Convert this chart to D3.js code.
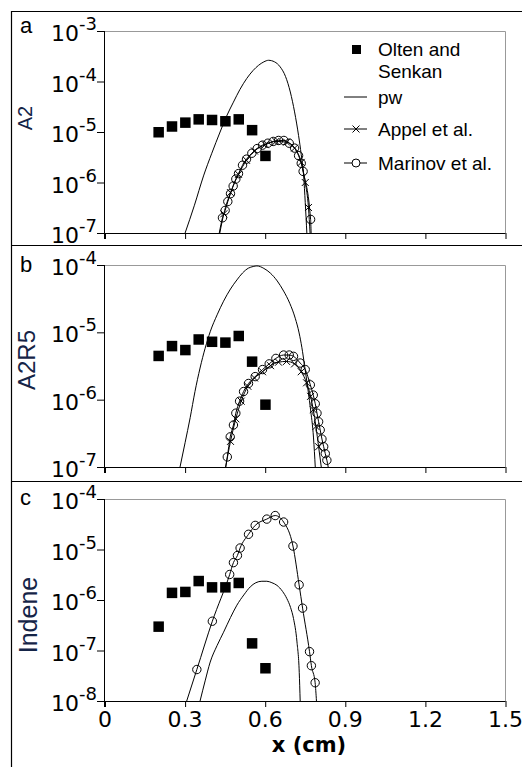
<!DOCTYPE html>
<html><head><meta charset="utf-8">
<script src="https://cdn.jsdelivr.net/npm/d3@7"></script>
<style>body{margin:0;background:#fff}svg{display:block}</style>
</head><body>
<script>
// ---------------- data ----------------
const oltenX = [0.2,0.25,0.3,0.35,0.4,0.45,0.5,0.55,0.6];
const oltenA = [1.0e-5,1.3e-5,1.55e-5,1.8e-5,1.75e-5,1.65e-5,1.8e-5,1.1e-5,3.4e-6];
const oltenB = [4.5e-6,6.3e-6,5.5e-6,7.9e-6,7.3e-6,7.1e-6,8.9e-6,3.7e-6,8.5e-7];
const oltenC = [3e-7,1.4e-6,1.46e-6,2.4e-6,1.8e-6,1.8e-6,2.2e-6,1.4e-7,4.5e-8];

const pwAx = [0.300,0.335,0.369,0.400,0.431,0.455,0.481,0.505,0.531,0.555,0.575,0.595,0.6125,0.635,0.656,0.676,0.694,0.71,0.725,0.735,0.744,0.750,0.756];
const pwAy = [1e-7,3.55e-7,1.35e-6,3.8e-6,1.0e-5,2.04e-5,3.9e-5,6.9e-5,1.15e-4,1.66e-4,2.09e-4,2.45e-4,2.63e-4,2.45e-4,1.95e-4,1.26e-4,6.2e-5,2.5e-5,8.5e-6,3.55e-6,1.35e-6,4.0e-7,1e-7];

const marAx = [0.428,0.44,0.45,0.46,0.47,0.48,0.49,0.50,0.515,0.53,0.55,0.57,0.59,0.61,0.63,0.65,0.67,0.69,0.71,0.725,0.735,0.742,0.77,0.772];
const marAy = [1e-7,2.0e-7,2.8e-7,4.2e-7,6.0e-7,8.5e-7,1.17e-6,1.5e-6,2.2e-6,2.9e-6,3.8e-6,4.7e-6,5.5e-6,6.0e-6,6.5e-6,6.8e-6,6.8e-6,6.0e-6,4.8e-6,3.4e-6,2.4e-6,1.66e-6,1.86e-7,1e-7];

const appAx = [0.43,0.445,0.47,0.50,0.53,0.56,0.60,0.64,0.68,0.71,0.735,0.75,0.762,0.768];
const appAy = [1e-7,2.4e-7,6.3e-7,1.45e-6,2.75e-6,4.2e-6,5.6e-6,6.5e-6,6.3e-6,4.8e-6,2.5e-6,1.0e-6,3.2e-7,1e-7];

const pwBx = [0.281,0.30,0.319,0.337,0.356,0.375,0.394,0.42,0.444,0.47,0.494,0.515,0.5375,0.555,0.569,0.595,0.619,0.645,0.669,0.692,0.7125,0.727,0.7375,0.747,0.756,0.769,0.781,0.7875];
const pwBy = [1e-7,2.3e-7,5.4e-7,1.32e-6,2.95e-6,5.8e-6,1.02e-5,1.82e-5,2.9e-5,4.4e-5,6.0e-5,7.6e-5,9.0e-5,9.5e-5,9.7e-5,8.9e-5,7.6e-5,5.8e-5,4.1e-5,2.7e-5,1.62e-5,9.8e-6,5.9e-6,3.3e-6,1.86e-6,7.6e-7,2.7e-7,1e-7];

const marBx = [0.452,0.458,0.469,0.481,0.49,0.504,0.519,0.5375,0.5625,0.59,0.615,0.64,0.669,0.69,0.706,0.731,0.75,0.769,0.78,0.7875,0.794,0.80,0.806,0.8125,0.819,0.825,0.831,0.836];
const marBy = [1e-7,1.41e-7,2.8e-7,4.2e-7,6.3e-7,9.5e-7,1.32e-6,1.74e-6,2.2e-6,2.8e-6,3.4e-6,4.1e-6,4.6e-6,4.6e-6,4.4e-6,3.5e-6,2.8e-6,1.66e-6,1.17e-6,8.7e-7,6.3e-7,4.7e-7,3.55e-7,2.6e-7,2.0e-7,1.58e-7,1.26e-7,1e-7];

const appBx = [0.452,0.47,0.49,0.51,0.535,0.56,0.59,0.62,0.65,0.68,0.71,0.735,0.755,0.77,0.78,0.79,0.80,0.81];
const appBy = [1e-7,2.4e-7,5.2e-7,9.5e-7,1.58e-6,2.1e-6,2.6e-6,3.2e-6,3.6e-6,3.7e-6,3.4e-6,2.6e-6,1.78e-6,1.12e-6,7.1e-7,4.0e-7,2.0e-7,1e-7];

const pwCx = [0.356,0.375,0.394,0.42,0.444,0.47,0.494,0.52,0.544,0.565,0.5875,0.606,0.625,0.644,0.665,0.681,0.695,0.706,0.719,0.7275,0.731];
const pwCy = [1e-8,2.5e-8,5.9e-8,1.26e-7,2.3e-7,4.5e-7,7.9e-7,1.26e-6,1.82e-6,2.2e-6,2.35e-6,2.35e-6,2.2e-6,1.95e-6,1.48e-6,1.07e-6,7.1e-7,4.3e-7,1.48e-7,3.7e-8,1e-8];

const marCx = [0.306,0.344,0.402,0.467,0.481,0.496,0.506,0.5375,0.5625,0.606,0.6375,0.669,0.704,0.727,0.74,0.766,0.773,0.787,0.792];
const marCy = [1e-8,4.2e-8,3.8e-7,3.2e-6,5.5e-6,7.6e-6,1.07e-5,2.0e-5,3.0e-5,4.0e-5,4.7e-5,3.5e-5,1.17e-5,2.0e-6,6.9e-7,9.5e-8,5.0e-8,2.3e-8,1e-8];

const xTicks = [0,0.3,0.6,0.9,1.2,1.5];
const xTickLabels = ["0","0.3","0.6","0.9","1.2","1.5"];
const yExpA = [-3,-4,-5,-6,-7];
const yExpB = [-4,-5,-6,-7];
const yExpC = [-4,-5,-6,-7,-8];
const panelNames = ["A2","A2R5","Indene"];
const panelLetters = ["a","b","c"];
const legendLabels = ["Olten and","Senkan","pw","Appel et al.","Marinov et al."];
const xTitle = "x (cm)";

// ---------------- drawing ----------------
const W = 522, H = 767;
const svg = d3.select("body").append("svg").attr("width", W).attr("height", H);
const TICKFONT = "'DejaVu Sans', sans-serif";
const LABFONT = "'Liberation Sans', Arial, sans-serif";

// outer frame + separators
svg.append("path").attr("d", `M11.5,767 V11.5 H522 M11.5,245.5 H522 M11.5,481.5 H522`)
  .attr("fill","none").attr("stroke","#000").attr("stroke-width",1.2);

const x = d3.scaleLinear().domain([0,1.5]).range([105,505.5]);

const panels = [
  {top:31, bottom:233, dom:[1e-7,1e-3], exps:yExpA, name:panelNames[0], letter:panelLetters[0],
   labelX:32, labelY:118, labelSize:20, letterY:33,
   olten:oltenA, pw:[pwAx,pwAy], mar:[marAx,marAy], app:[appAx,appAy]},
  {top:265, bottom:467, dom:[1e-7,1e-4], exps:yExpB, name:panelNames[1], letter:panelLetters[1],
   labelX:35, labelY:360, labelSize:24, letterY:272,
   olten:oltenB, pw:[pwBx,pwBy], mar:[marBx,marBy], app:[appBx,appBy]},
  {top:499, bottom:701, dom:[1e-8,1e-4], exps:yExpC, name:panelNames[2], letter:panelLetters[2],
   labelX:37, labelY:615, labelSize:25, letterY:505,
   olten:oltenC, pw:[pwCx,pwCy], mar:[marCx,marCy], app:null}
];

panels.forEach((p, pi) => {
  const y = d3.scaleLog().domain(p.dom).range([p.bottom, p.top]);
  const g = svg.append("g");
  const clipId = "clip"+pi;
  svg.append("clipPath").attr("id", clipId).append("rect")
    .attr("x",105).attr("y",p.top).attr("width",400.5).attr("height",p.bottom-p.top);

  // light frame top/right
  g.append("path").attr("d", `M105,${p.top+0.5} H${505.5} V${p.bottom}`)
    .attr("fill","none").attr("stroke","#999").attr("stroke-width",1);

  const line = d3.line().x(d=>x(d[0])).y(d=>y(d[1])).curve(d3.curveMonotoneX);
  const zip = a => a[0].map((v,i)=>[v,a[1][i]]);
  const cg = g.append("g").attr("clip-path", `url(#${clipId})`);

  // pw
  cg.append("path").attr("d", line(zip(p.pw))).attr("fill","none").attr("stroke","#000").attr("stroke-width",1);
  // Appel
  if (p.app) {
    const ad = zip(p.app);
    cg.append("path").attr("d", line(ad)).attr("fill","none").attr("stroke","#000").attr("stroke-width",1);
    ad.filter(d=>d[1]>p.dom[0]).forEach(d=>{
      const cx=x(d[0]), cy=y(d[1]), s=3.5;
      cg.append("path").attr("d",`M${cx-s},${cy-s}L${cx+s},${cy+s}M${cx-s},${cy+s}L${cx+s},${cy-s}`)
        .attr("stroke","#000").attr("stroke-width",1);
    });
  }
  // Marinov
  const md = zip(p.mar);
  cg.append("path").attr("d", line(md)).attr("fill","none").attr("stroke","#000").attr("stroke-width",1);
  cg.selectAll("circle.m").data(md.filter(d=>d[1]>p.dom[0])).enter().append("circle")
    .attr("cx",d=>x(d[0])).attr("cy",d=>y(d[1])).attr("r",4.2)
    .attr("fill","none").attr("stroke","#000").attr("stroke-width",1);
  // Olten squares
  g.selectAll("rect.o").data(oltenX.map((v,i)=>[v,p.olten[i]])).enter().append("rect")
    .attr("x",d=>x(d[0])-5).attr("y",d=>y(d[1])-5).attr("width",10.5).attr("height",10.5).attr("fill","#000");

  // axes
  const yAxis = d3.axisLeft(y).tickValues(p.exps.map(e=>Math.pow(10,e))).tickSize(8).tickFormat("");
  const ya = g.append("g").attr("transform","translate(105,0)").call(yAxis);
  const xAxis = d3.axisBottom(x).tickValues(xTicks).tickSize(6).tickFormat("");
  const xa = g.append("g").attr("transform",`translate(0,${p.bottom})`).call(xAxis);
  [ya,xa].forEach(a=>{a.select(".domain").attr("stroke","#000"); a.selectAll(".tick line").attr("stroke","#000");});
  ya.select(".domain").attr("d",`M-0.5,${p.top}V${p.bottom+6}`);
  xa.select(".domain").attr("d",`M105,0.5H505.5`);

  // y tick labels
  p.exps.forEach(e=>{
    const t = g.append("text").attr("x",97).attr("y",y(Math.pow(10,e))+10)
      .attr("text-anchor","end").attr("font-family",TICKFONT).attr("font-size",22).attr("fill","#000");
    t.append("tspan").text("10");
    t.append("tspan").attr("dy",-11).attr("font-size",18).text("-"+Math.abs(e));
  });

  // y title
  g.append("text").attr("transform",`translate(${p.labelX},${p.labelY}) rotate(-90)`)
    .attr("text-anchor","middle").attr("font-family",LABFONT).attr("font-size",p.labelSize)
    .attr("fill","#152447").text(p.name);
  // panel letter
  g.append("text").attr("x",20).attr("y",p.letterY).attr("font-family",LABFONT).attr("font-size",22)
    .attr("fill","#000").text(p.letter);

  if (pi===2) {
    xTicks.forEach((v,i)=>{
      g.append("text").attr("x",x(v)).attr("y",727).attr("text-anchor","middle")
        .attr("font-family",TICKFONT).attr("font-size",22).attr("fill","#000").text(xTickLabels[i]);
    });
    g.append("text").attr("x",309).attr("y",752).attr("text-anchor","middle")
      .attr("font-family","'DejaVu Sans', sans-serif").attr("font-weight","bold").attr("font-size",21)
      .attr("fill","#000").text(xTitle);
  }
});

// legend (panel a)
const lg = svg.append("g");
lg.append("rect").attr("x",352).attr("y",45).attr("width",9).attr("height",9).attr("fill","#000");
lg.append("text").attr("x",378).attr("y",56).attr("font-family",LABFONT).attr("font-size",19).text(legendLabels[0]);
lg.append("text").attr("x",378).attr("y",78).attr("font-family",LABFONT).attr("font-size",19).text(legendLabels[1]);
const legRows = [[97,legendLabels[2],"none"],[129,legendLabels[3],"x"],[163,legendLabels[4],"o"]];
legRows.forEach(r=>{
  lg.append("line").attr("x1",344).attr("x2",367).attr("y1",r[0]).attr("y2",r[0]).attr("stroke","#000");
  if (r[2]==="x") {
    const cx=356,cy=r[0],s=3.5;
    lg.append("path").attr("d",`M${cx-s},${cy-s}L${cx+s},${cy+s}M${cx-s},${cy+s}L${cx+s},${cy-s}`).attr("stroke","#000");
  } else if (r[2]==="o") {
    lg.append("circle").attr("cx",356).attr("cy",r[0]).attr("r",4).attr("fill","#fff").attr("stroke","#000");
  }
  lg.append("text").attr("x",378).attr("y",r[0]+7).attr("font-family",LABFONT).attr("font-size",19).text(r[1]);
});
</script>
</body></html>
